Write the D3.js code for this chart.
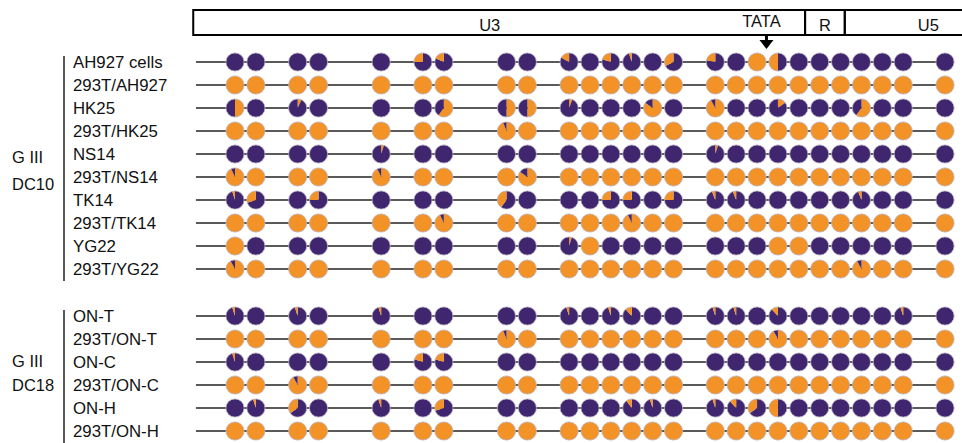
<!DOCTYPE html>
<html>
<head>
<meta charset="utf-8">
<script src="https://cdn.jsdelivr.net/npm/d3@7/dist/d3.min.js"></script>
<style>
  html, body { margin: 0; padding: 0; background: #fff; }
  svg { display: block; font-family: "Liberation Sans", Arial, sans-serif; }
</style>
</head>
<body>
<svg id="chart" width="962" height="443"></svg>
<script>
// ---- DATA ----
// CpG site positions along the LTR (site units)
const cpgPos = [0, 1, 3, 4, 7, 9, 10, 13, 14, 16, 17, 18, 19, 20, 21, 23, 24, 25, 26, 27, 28, 29, 30, 31, 32, 34];
const ltrSpan = [-1.87, 34.4];
const regions = [
  { name: "U3", start: -2.0, end: 27.3, labelAt: 12.2 },
  { name: "R", start: 27.3, end: 29.2, labelAt: 28.25 },
  { name: "U5", start: 29.2, end: 36.0, labelAt: 33.2 }
];
const tataPos = 25.45;
const tataLabel = "TATA";

const groups = [
  { lines: ["G III", "DC10"], rows: [0, 9] },
  { lines: ["G III", "DC18"], rows: [10, 15] }
];
const rowLabels = ["AH927 cells", "293T/AH927", "HK25", "293T/HK25", "NS14", "293T/NS14",
  "TK14", "293T/TK14", "YG22", "293T/YG22",
  "ON-T", "293T/ON-T", "ON-C", "293T/ON-C", "ON-H", "293T/ON-H"];
// slice order inside each pie, clockwise from 12 o'clock: P = methylated first, O = unmethylated first
const rowOrder = ["P", "P", "O", "O", "O", "O", "P", "O", "O", "O", "P", "O", "P", "O", "P", "O"];

const ones = () => cpgPos.map(() => 1);
const zeros = () => cpgPos.map(() => 0);
function withVals(base, entries) { const a = base.slice(); Object.keys(entries).forEach(k => a[+k - 1] = entries[k]); return a; }

// fraction unmethylated (orange) at each CpG site, per row
const unmeth = [
  withVals(zeros(), {6: 0.25, 7: 0.18, 10: 0.17, 12: 0.2, 13: 0.05, 15: 0.32, 16: 0.22, 18: 1, 19: 0.5}),
  ones(),
  withVals(zeros(), {1: 0.5, 3: 0.07, 7: 0.6, 8: 0.5, 9: 0.5, 10: 0.06, 14: 0.85, 16: 0.92, 19: 0.15, 23: 0.6}),
  withVals(ones(), {8: 0.94}),
  withVals(zeros(), {5: 0.05, 16: 0.05}),
  withVals(ones(), {1: 0.93, 5: 0.93, 9: 0.85}),
  withVals(zeros(), {1: 0.05, 2: 0.3, 4: 0.25, 8: 0.4, 12: 0.25, 13: 0.25, 15: 0.25, 16: 0.06, 17: 0.06, 23: 0.06}),
  withVals(ones(), {7: 0.93, 13: 0.93}),
  withVals(zeros(), {1: 1, 10: 0.05, 11: 1, 19: 1, 20: 1}),
  withVals(ones(), {1: 0.92, 23: 0.92}),
  withVals(zeros(), {1: 0.05, 3: 0.05, 5: 0.05, 10: 0.05, 12: 0.05, 13: 0.12, 16: 0.05, 17: 0.05, 19: 0.12, 25: 0.05}),
  withVals(ones(), {8: 0.94, 19: 0.92}),
  withVals(zeros(), {1: 0.05, 6: 0.2, 7: 0.2}),
  withVals(ones(), {3: 0.92}),
  withVals(zeros(), {2: 0.05, 3: 0.35, 5: 0.05, 7: 0.3, 13: 0.1, 14: 0.05, 16: 0.05, 17: 0.12, 18: 0.35, 19: 0.5}),
  ones()
];

// ---- DRAW ----
const svg = d3.select("#chart");
const purple = "#40256f", orange = "#f29227";
const x = d3.scaleLinear().domain([0, 34]).range([235, 945]);
const groupGap = 24 / 23;
const yIdx = d3.scaleLinear().domain([0, 1]).range([62, 85]);
const rowY = i => yIdx(i + (i >= 10 ? groupGap : 0));
const r = 9.1;

// header box
const hdr = svg.append("g");
const hTop = 10, hBot = 35;
hdr.selectAll("rect").data(regions).join("rect")
  .attr("x", d => x(d.start)).attr("y", hTop)
  .attr("width", d => x(d.end) - x(d.start)).attr("height", hBot - hTop)
  .attr("fill", "none").attr("stroke", "#000").attr("stroke-width", 2);
hdr.selectAll("text.reg").data(regions).join("text").attr("class", "reg")
  .attr("x", d => x(d.labelAt)).attr("y", 31)
  .attr("text-anchor", "middle").attr("font-size", 16.5).attr("fill", "#111")
  .text(d => d.name);
hdr.append("text").attr("x", x(tataPos) - 5).attr("y", 27)
  .attr("text-anchor", "middle").attr("font-size", 16.5).attr("fill", "#111").text(tataLabel);
hdr.append("line").attr("x1", x(tataPos)).attr("x2", x(tataPos))
  .attr("y1", hBot).attr("y2", 42).attr("stroke", "#000").attr("stroke-width", 3);
hdr.append("path")
  .attr("d", `M${x(tataPos) - 7},40 L${x(tataPos) + 7},40 L${x(tataPos)},49 Z`)
  .attr("fill", "#000");

// group labels and bars
const groupLabelBase = [[163, 190], [367, 391]];
groups.forEach((g, gi) => {
  const y0 = rowY(g.rows[0]), y1 = rowY(g.rows[1]);
  svg.append("line").attr("x1", 64).attr("x2", 64)
    .attr("y1", y0 - 6).attr("y2", y1 + 12)
    .attr("stroke", "#222").attr("stroke-width", 1.5);
  g.lines.forEach((t, k) => {
    svg.append("text").attr("x", 12).attr("y", groupLabelBase[gi][k])
      .attr("font-size", 16.5).attr("fill", "#111").text(t);
  });
});

// rows
const pie = d3.pie().sort(null).value(d => d.v);
const arc = d3.arc().innerRadius(0).outerRadius(r);
rowLabels.forEach((lab, i) => {
  const y = rowY(i);
  const g = svg.append("g");
  g.append("text").attr("x", 73).attr("y", y + 6)
    .attr("font-size", 16.8).attr("fill", "#111").text(lab);
  g.append("line").attr("x1", x(ltrSpan[0])).attr("x2", x(ltrSpan[1]))
    .attr("y1", y).attr("y2", y).attr("stroke", "#5a5a5a").attr("stroke-width", 2);
  unmeth[i].forEach((f, j) => {
    const parts = rowOrder[i] === "P"
      ? [{ v: 1 - f, c: purple }, { v: f, c: orange }]
      : [{ v: f, c: orange }, { v: 1 - f, c: purple }];
    const pg = g.append("g").attr("transform", `translate(${x(cpgPos[j])},${y})`);
    pg.selectAll("path").data(pie(parts).filter(d => d.data.v > 0)).join("path")
      .attr("d", arc).attr("fill", d => d.data.c);
    pg.append("circle").attr("r", r).attr("fill", "none")
      .attr("stroke", "#b9b3c2").attr("stroke-width", 0.8);
  });
});
</script>
</body>
</html>
